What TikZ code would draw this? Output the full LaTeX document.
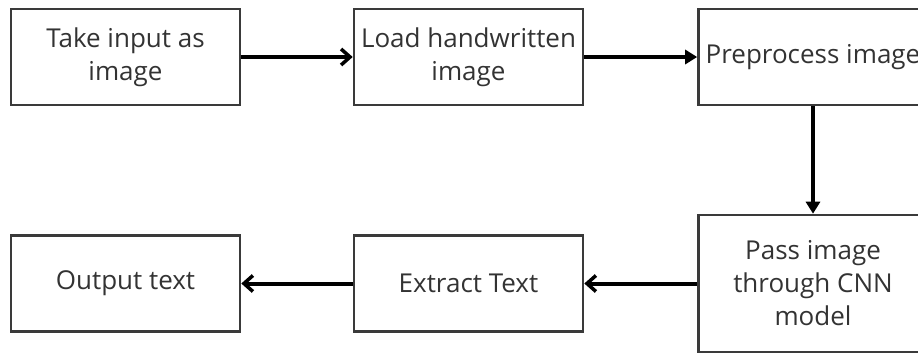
\documentclass[tikz,border=0pt]{standalone}
\usepackage{fontspec}
\setmainfont{Open Sans}
\usepackage{xcolor}
\usepackage{tikz}
\usetikzlibrary{arrows.meta,positioning}

\definecolor{boxline}{HTML}{3A3A3A}
\definecolor{boxtext}{HTML}{333333}

\begin{document}
\begin{tikzpicture}[
    x=1pt, y=-1pt,
    box/.style={rectangle, draw=boxline, line width=2.6pt, minimum width=229pt, minimum height=96pt, font=\fontsize{26}{33}\selectfont, text=boxtext, align=center, inner sep=0pt},
    arrow/.style={-{Triangle[length=12pt,width=14pt]}, line width=4pt},
    backarrow/.style={-{Straight Barb[length=9pt,width=16pt,line width=3.5pt]}, line width=4pt}
]
\useasboundingbox (0,0) rectangle (918,354);
\clip (0,0) rectangle (918,354);

\node[box] (input) at (125.5,57) {Take input as\\image};
\node[box] (load) at (468.5,57) {Load handwritten\\image};
\node[box] (prep) at (813,57) {Preprocess image};
\node[box, minimum height=137pt] (cnn) at (813,283.5) {Pass image\\through CNN\\model};
\node[box] (extract) at (468.5,283.5) {Extract Text};
\node[box] (output) at (125.5,283.5) {Output text};

\draw[backarrow] (input) -- (load);
\draw[arrow] (load) -- (prep);
\draw[arrow] (prep) -- (cnn);
\draw[backarrow] (cnn) -- (extract);
\draw[backarrow] (extract) -- (output);

\end{tikzpicture}
\end{document}
